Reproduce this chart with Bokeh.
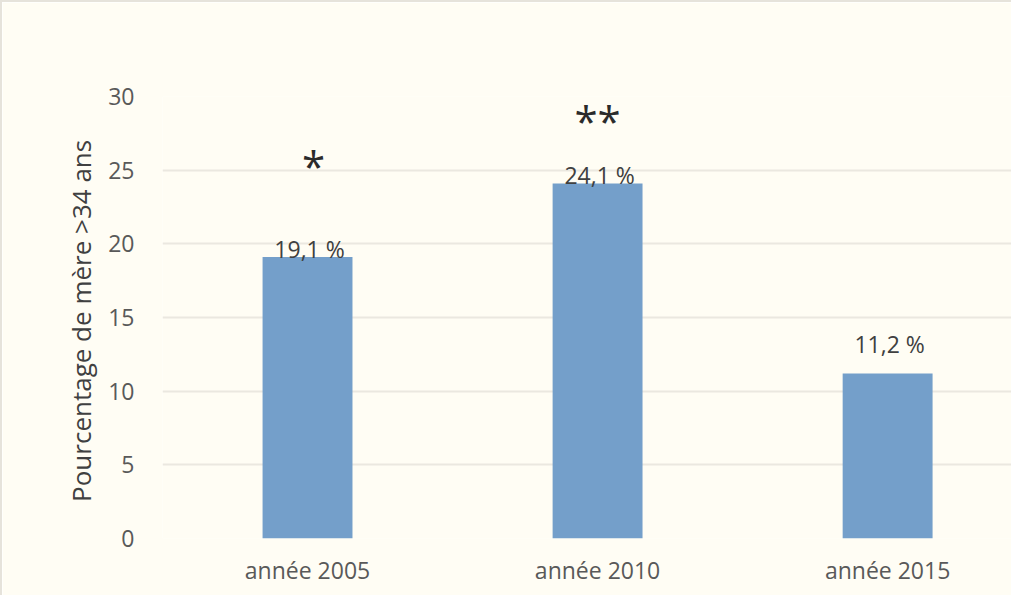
from bokeh.plotting import figure
from bokeh.models import Range1d, FixedTicker, ColumnDataSource
from bokeh.core.properties import value
from bokeh.embed import file_html
from bokeh.resources import INLINE

# ---- data ----
categories = ["année 2005", "année 2010", "année 2015"]
percentages = [19.1, 24.1, 11.2]
value_labels = ["19,1 %", "24,1 %", "11,2 %"]
significance = ["*", "**", ""]
significance_y = [25.5, 28.6, 0]
y_ticks = [0, 5, 10, 15, 20, 25, 30]

FONT = "Open Sans"
BG = "#fffdf4"

idx = list(range(len(categories)))
src = ColumnDataSource(dict(x=idx, top=percentages, lab=value_labels,
                            sig=significance, sig_y=significance_y,
                            lab_off=[8, 8, -13], sig_xoff=[6, 0, 0]))

p = figure(width=1011, height=595, output_backend="svg", toolbar_location=None,
           x_range=Range1d(-0.5, 2.434), y_range=Range1d(0, 30),
           min_border_left=160, min_border_right=0, min_border_top=94,
           min_border_bottom=59)
p.styles = {"border-top": "2px solid #e6e3db", "border-left": "2px solid #e6e3db"}
p.background_fill_color = BG
p.border_fill_color = BG
p.outline_line_color = None

p.vbar(x="x", top="top", width=0.31, bottom=0, source=src,
       fill_color="#749fca", line_color=None)

p.text(x="x", y="top", text="lab", source=src, text_align="center",
       text_baseline="bottom", y_offset="lab_off", x_offset=2,
       text_font=value(FONT), text_font_size="23px", text_color="#404040")

p.text(x="x", y="sig_y", text="sig", source=src, text_align="center",
       text_baseline="middle", y_offset=3, x_offset="sig_xoff",
       text_font=value(FONT), text_font_size="42px", text_color="#2b2b2b")

# axes
p.xaxis.ticker = FixedTicker(ticks=idx)
p.xaxis.major_label_overrides = {i: c for i, c in enumerate(categories)}
p.yaxis.ticker = FixedTicker(ticks=y_ticks)
for ax in (p.xaxis[0], p.yaxis[0]):
    ax.axis_line_color = None
    ax.major_tick_line_color = None
    ax.minor_tick_line_color = None
    ax.major_label_text_font = FONT
    ax.major_label_text_font_size = "23px"
    ax.major_label_text_color = "#595959"
p.xaxis.major_label_standoff = 9
p.yaxis.major_label_standoff = 22
p.yaxis.axis_label = "Pourcentage de mère  >34 ans"
p.yaxis.axis_label_text_font = FONT
p.yaxis.axis_label_text_font_size = "26px"
p.yaxis.axis_label_text_font_style = "normal"
p.yaxis.axis_label_text_color = "#404040"
p.yaxis.axis_label_standoff = 6

p.xgrid.grid_line_color = None
p.ygrid.grid_line_color = "#ebe8e0"
p.ygrid.grid_line_width = 2

open("out.html", "w").write(file_html(p, INLINE))
